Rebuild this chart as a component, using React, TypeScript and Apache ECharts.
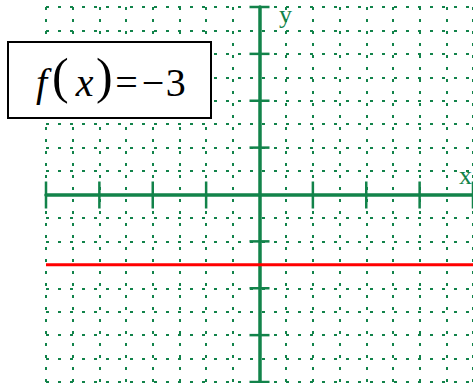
import React, { useEffect, useRef } from "react";
import * as echarts from "echarts";

// ---- data ----
const xRange = [-8, 8];
const yRange = [-8, 8];
const fValue = -3;
const lineXs = [-8, 8];
const xTickValues = [-8, -6, -4, -2, 2, 4, 6, 8];
const yTickValues = [-8, -6, -4, -2, 2, 4, 6, 8];
const axisNames = ["x", "y"];

const GREEN = "#12834a";
const RED = "#ff0000";
const SERIF = "Liberation Serif";

export default function App() {
  const ref = useRef<HTMLDivElement>(null);

  useEffect(() => {
    if (!ref.current) return;
    const chart = echarts.init(ref.current, undefined, { renderer: "svg" });

    const splitStyle = { color: GREEN, width: 2, type: [3, 9] as number[] };

    chart.setOption({
      animation: false,
      backgroundColor: "#ffffff",
      grid: { left: 46, right: 0, top: 7, bottom: 1, containLabel: false },
      xAxis: {
        type: "value",
        min: xRange[0],
        max: xRange[1],
        interval: 1,
        axisLine: { onZero: true, lineStyle: { color: GREEN, width: 3.5 } },
        axisTick: { show: false },
        axisLabel: { show: false },
        splitLine: { show: true, lineStyle: splitStyle },
      },
      yAxis: {
        type: "value",
        min: yRange[0],
        max: yRange[1],
        interval: 1,
        axisLine: { onZero: true, lineStyle: { color: GREEN, width: 3.5 } },
        axisTick: { show: false },
        axisLabel: { show: false },
        splitLine: { show: true, lineStyle: splitStyle },
      },
      series: [
        {
          type: "custom",
          silent: true,
          clip: false,
          z: 3,
          data: xTickValues.map((v) => [v, 0]),
          renderItem: (_p: any, api: any) => {
            const pt = api.coord([api.value(0), api.value(1)]);
            return {
              type: "line",
              shape: { x1: pt[0], y1: pt[1] - 13, x2: pt[0], y2: pt[1] + 14 },
              style: { stroke: GREEN, lineWidth: 2.5 },
            };
          },
        },
        {
          type: "custom",
          silent: true,
          clip: false,
          z: 3,
          data: yTickValues.map((v) => [0, v]),
          renderItem: (_p: any, api: any) => {
            const pt = api.coord([api.value(0), api.value(1)]);
            return {
              type: "line",
              shape: { x1: pt[0] - 10, y1: pt[1], x2: pt[0] + 10, y2: pt[1] },
              style: { stroke: GREEN, lineWidth: 2.5 },
            };
          },
        },
        {
          type: "line",
          z: 4,
          symbol: "none",
          silent: true,
          data: lineXs.map((x) => [x, fValue]),
          lineStyle: { color: RED, width: 3 },
        },
      ],
      graphic: [
        {
          type: "text",
          x: 279,
          y: 14,
          z: 50,
          style: {
            text: axisNames[1],
            fill: GREEN,
            fontFamily: SERIF,
            fontSize: 26,
            textAlign: "left",
            textVerticalAlign: "middle",
          },
        },
        {
          type: "text",
          x: 459,
          y: 175,
          z: 50,
          style: {
            text: axisNames[0],
            fill: GREEN,
            fontFamily: SERIF,
            fontSize: 26,
            textAlign: "left",
            textVerticalAlign: "middle",
          },
        },
        {
          type: "rect",
          z: 100,
          shape: { x: 8, y: 42, width: 203, height: 76 },
          style: { fill: "#ffffff", stroke: "#000000", lineWidth: 2 },
        },
        {
          type: "text",
          z: 101,
          x: 36,
          y: 82,
          style: {
            text: "{f|f}{pl|(}{v|x}{pr|)}{eq|=}{mi|−}{n|" + String(Math.abs(fValue)) + "}",
            textAlign: "left",
            textVerticalAlign: "middle",
            fill: "#000000",
            fontFamily: SERIF,
            rich: {
              f: { fontFamily: SERIF, fontStyle: "italic", fontSize: 40, padding: [0, 5, 0, 0] },
              pl: { fontFamily: SERIF, fontSize: 50, padding: [0, 7, 12, 0] },
              v: { fontFamily: SERIF, fontStyle: "italic", fontSize: 40, padding: [0, 2.5, 0, 0] },
              pr: { fontFamily: SERIF, fontSize: 50, padding: [0, 2.5, 12, 0] },
              eq: { fontFamily: SERIF, fontSize: 40, padding: [0, 4, 0, 0] },
              mi: { fontFamily: SERIF, fontSize: 40, padding: [0, 1.5, 0, 0] },
              n: { fontFamily: SERIF, fontSize: 40 },
            },
          },
        },
      ],
    });

    return () => chart.dispose();
  }, []);

  return (
    <div
      ref={ref}
      style={{ position: "fixed", left: 0, top: 0, width: 473, height: 383 }}
    />
  );
}
